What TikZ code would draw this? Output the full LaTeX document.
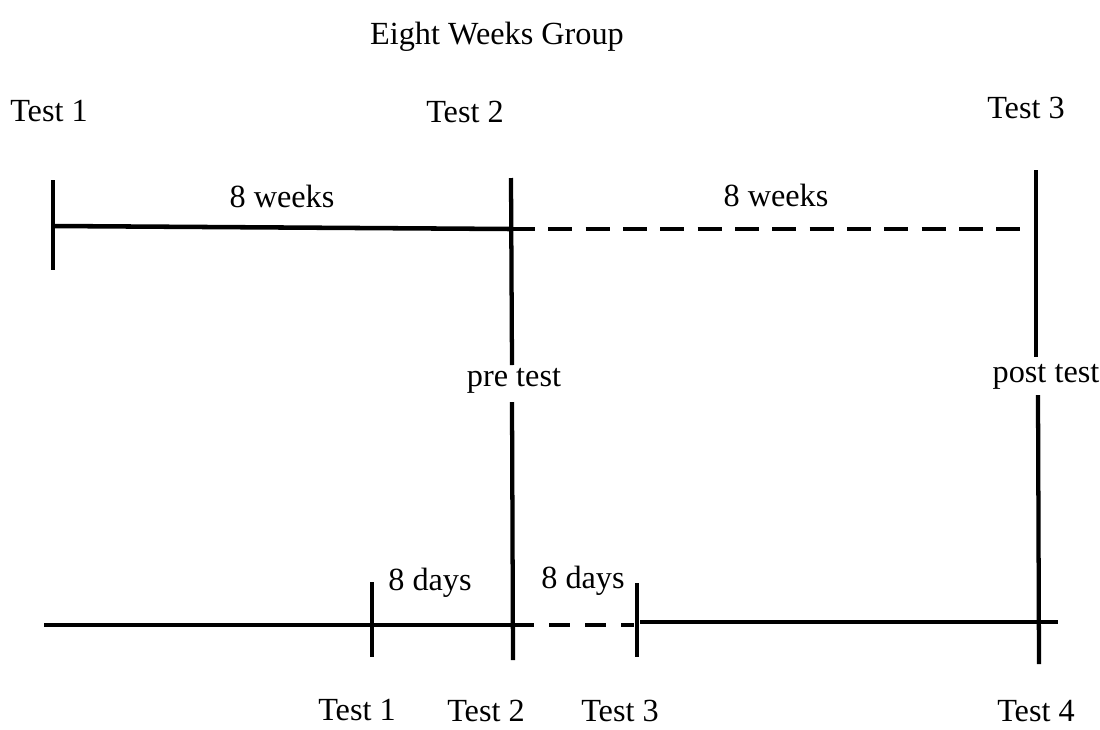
\documentclass[tikz,border=0pt]{standalone}
\usepackage{fontspec}
\setmainfont{LiberationSerif}[Extension=.ttf, UprightFont=*-Regular, BoldFont=*-Bold]
\begin{document}
\begin{tikzpicture}[x=0.75pt,y=-0.75pt,
  lbl/.style={font=\fontsize{24.2}{29}\selectfont, inner sep=0pt, anchor=base},
  bar/.style={line width=3.4pt},
  tick/.style={line width=3.2pt},
  dsh/.style={line width=3.4pt, dash pattern=on 18pt off 10pt},
  dshb/.style={line width=3.4pt, dash pattern=on 16pt off 11pt}]
\useasboundingbox (0,0) rectangle (1100,729);

% title
\node[lbl] (title) at (497,44) {Eight Weeks Group};

% upper timeline
\coordinate (u1top) at (53,180);
\coordinate (u1bot) at (53,270);
\coordinate (u1mid) at (53,226);
\coordinate (u2top) at (511,178);
\coordinate (u2bot) at (512,365);
\coordinate (u2mid) at (511,229);
\coordinate (u3top) at (1036,170);
\coordinate (u3bot) at (1036,357);
\coordinate (u3end) at (1030,229);

\draw[tick] (u1top) -- (u1bot);
\draw[tick] (u2top) -- (u2bot);
\draw[tick] (u3top) -- (u3bot);
\draw[bar] (u1mid) -- (u2mid);
\draw[dsh] (u2mid) -- (u3end);

\node[lbl] (ut1) at (49,121) {Test 1};
\node[lbl] (ut2) at (465,122) {Test 2};
\node[lbl] (ut3) at (1026,118) {Test 3};
\node[lbl] (uw1) at (282,207) {8 weeks};
\node[lbl] (uw2) at (776,206) {8 weeks};

\node[lbl] (pre) at (514,386) {pre test};
\node[lbl] (post) at (1046,382) {post test};

% lower timeline
\coordinate (l2top) at (512,402);
\coordinate (l2bot) at (513,660);
\coordinate (l4top) at (1038,395);
\coordinate (l4bot) at (1039,664);
\coordinate (l1top) at (372,582);
\coordinate (l1bot) at (372,657);
\coordinate (l3top) at (637,583);
\coordinate (l3bot) at (637,657);
\coordinate (lstart) at (44,625);
\coordinate (l2mid) at (513,625);
\coordinate (l3pre) at (634,625);
\coordinate (l3post) at (640,622);
\coordinate (lend) at (1058,622);

\draw[tick] (l2top) -- (l2bot);
\draw[tick] (l4top) -- (l4bot);
\draw[tick] (l1top) -- (l1bot);
\draw[tick] (l3top) -- (l3bot);
\draw[bar] (lstart) -- (l2mid);
\draw[dshb] (l2mid) -- (l3pre);
\draw[bar] (l3post) -- (lend);

\node[lbl] (ld1) at (430,590) {8 days};
\node[lbl] (ld2) at (583,588) {8 days};

\node[lbl] (lt1) at (357,720) {Test 1};
\node[lbl] (lt2) at (486,721) {Test 2};
\node[lbl] (lt3) at (620,721) {Test 3};
\node[lbl] (lt4) at (1036,721) {Test 4};
\end{tikzpicture}
\end{document}
